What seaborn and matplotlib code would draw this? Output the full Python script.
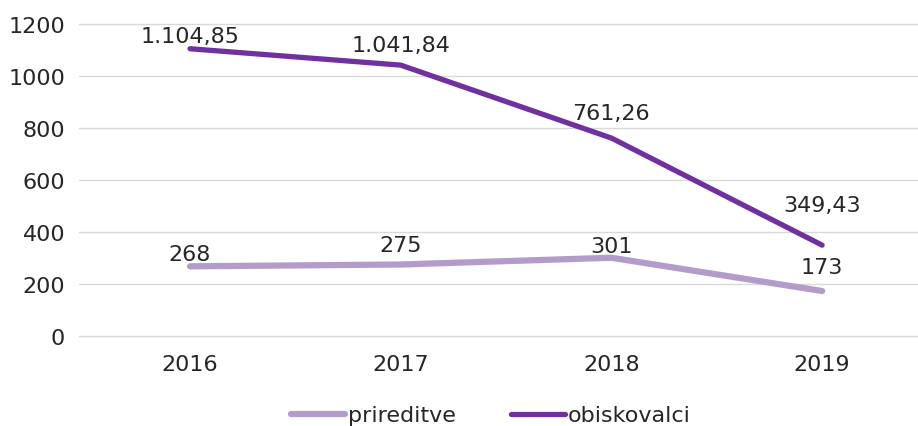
import pandas as pd
import matplotlib.pyplot as plt
import seaborn as sns

years = ["2016", "2017", "2018", "2019"]
prireditve = [268, 275, 301, 173]
obiskovalci = [1104.85, 1041.84, 761.26, 349.43]
prireditve_labels = ["268", "275", "301", "173"]
obiskovalci_labels = ["1.104,85", "1.041,84", "761,26", "349,43"]

df = pd.DataFrame({
    "leto": years * 2,
    "vrednost": prireditve + obiskovalci,
    "serija": ["prireditve"] * 4 + ["obiskovalci"] * 4,
})

sns.set_theme(style="white")
plt.rcParams['font.family'] = ['DejaVu Sans']

fig = plt.figure(figsize=(9.18, 4.27), dpi=100)
ax = fig.add_axes([79 / 918, 1 - 337 / 427, 1 - 79 / 918, (337 - 25) / 427])

palette = {"prireditve": "#B39CCB", "obiskovalci": "#7030A0"}
widths = {"prireditve": 4.5, "obiskovalci": 3.8}
sns.lineplot(data=df, x="leto", y="vrednost", hue="serija", palette=palette,
             ax=ax, sort=False, legend=False)
for line, name in zip(ax.lines, ["prireditve", "obiskovalci"]):
    line.set_linewidth(widths[name])
    line.set_solid_capstyle("round")

ax.set_ylim(0, 1200)
ax.set_xlim(-0.527, 3.455)
ax.set_yticks(range(0, 1201, 200))
ax.yaxis.grid(True, color="#D9D9D9", linewidth=1)
ax.xaxis.grid(False)
ax.set_axisbelow(True)
for g in ax.get_ygridlines():
    g.set_clip_on(False)
for s in ax.spines.values():
    s.set_visible(False)
ax.set_xlabel("")
ax.set_ylabel("")
ax.tick_params(axis="both", labelsize=16, colors="#262626", length=0)
ax.tick_params(axis="x", pad=13)
ax.tick_params(axis="y", pad=10)

ob_off = [9.5, 14.5, 18, 29]
for i, (v, lab) in enumerate(zip(obiskovalci, obiskovalci_labels)):
    ax.annotate(lab, (i, v), xytext=(0, ob_off[i]), textcoords="offset points",
                ha="center", va="center", fontsize=16, color="#262626")
pr_off = [8.6, 13.7, 8.4, 17]
for i, (v, lab) in enumerate(zip(prireditve, prireditve_labels)):
    ax.annotate(lab, (i, v), xytext=(0, pr_off[i]), textcoords="offset points",
                ha="center", va="center", fontsize=16, color="#262626")

handles = [plt.Line2D([], [], color=palette[n], linewidth=widths[n],
                      solid_capstyle="round") for n in ["prireditve", "obiskovalci"]]
fig.legend(handles, ["prireditve", "obiskovalci"], loc="center",
           bbox_to_anchor=(0.535, 0.025), ncol=2, frameon=False, fontsize=16,
           handlelength=2.4, handletextpad=0.15, columnspacing=2.5,
           labelcolor="#262626")

fig.savefig("out.png", dpi=100)
